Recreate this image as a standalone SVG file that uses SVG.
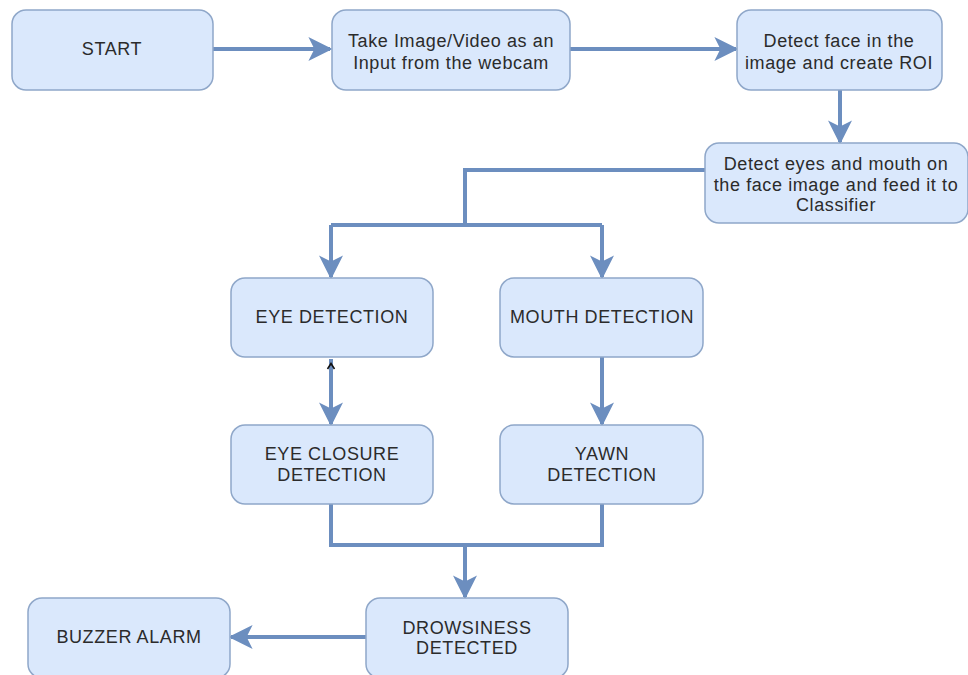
<svg xmlns="http://www.w3.org/2000/svg" width="968" height="675" viewBox="0 0 968 675">
<defs>
<style>
.n{fill:#dae8fc;stroke:#8fa7c9;stroke-width:1.5}
.t{font-family:"Liberation Sans",Arial,sans-serif;font-size:18px;fill:#2b2b2b;text-anchor:middle;letter-spacing:0.6px}
.c{fill:none;stroke:#6c8ebf;stroke-width:4}
</style>
<marker id="a" viewBox="0 0 10 10" refX="9" refY="5" markerWidth="6" markerHeight="6" orient="auto" markerUnits="strokeWidth">
<path d="M0,0 L10,5 L0,10 L2.5,5 Z" fill="#6c8ebf"/>
</marker>
</defs>
<rect width="968" height="675" fill="#fff"/>
<g id="connectors">
<path class="c" d="M213,49 H330" marker-end="url(#a)"/>
<path class="c" d="M570,49 H736" marker-end="url(#a)"/>
<path class="c" d="M840,90 V142" marker-end="url(#a)"/>
<path class="c" d="M705,170 H465 V225"/>
<path class="c" d="M331,225 H602"/>
<path class="c" d="M331,225 V277" marker-end="url(#a)"/>
<path class="c" d="M602,225 V277" marker-end="url(#a)"/>
<path class="c" d="M331,359 V424" marker-end="url(#a)"/>
<path d="M327.5,369 L331,363.5 L334.5,369" fill="none" stroke="#111" stroke-width="1.6"/>
<path class="c" d="M602,357 V424" marker-end="url(#a)"/>
<path class="c" d="M331,504 V545 H602 V504"/>
<path class="c" d="M465,545 V597" marker-end="url(#a)"/>
<path class="c" d="M366,637 H231" marker-end="url(#a)"/>
</g>
<g id="start"><rect class="n" x="12" y="10" width="201" height="80" rx="14"/><text class="t" x="112" y="55">START</text></g>
<g id="input"><rect class="n" x="332" y="10" width="238" height="80" rx="14"/><text class="t" x="451" y="47">Take Image/Video as an</text><text class="t" x="451" y="69">Input from the webcam</text></g>
<g id="face"><rect class="n" x="737" y="10" width="205" height="80" rx="14"/><text class="t" x="839" y="47">Detect face in the</text><text class="t" x="839" y="69">image and create ROI</text></g>
<g id="eyesmouth"><rect class="n" x="705" y="143" width="263" height="80" rx="14"/><text class="t" x="836" y="170">Detect eyes and mouth on</text><text class="t" x="836" y="191">the face image and feed it to</text><text class="t" x="836" y="211">Classifier</text></g>
<g id="eyedet"><rect class="n" x="231" y="278" width="202" height="79" rx="14"/><text class="t" x="332" y="323">EYE DETECTION</text></g>
<g id="mouthdet"><rect class="n" x="500" y="278" width="203" height="79" rx="14"/><text class="t" x="602" y="323">MOUTH DETECTION</text></g>
<g id="eyeclosure"><rect class="n" x="231" y="425" width="202" height="79" rx="14"/><text class="t" x="332" y="460">EYE CLOSURE</text><text class="t" x="332" y="481">DETECTION</text></g>
<g id="yawn"><rect class="n" x="500" y="425" width="203" height="79" rx="14"/><text class="t" x="602" y="460">YAWN</text><text class="t" x="602" y="481">DETECTION</text></g>
<g id="drowsy"><rect class="n" x="366" y="598" width="202" height="80" rx="14"/><text class="t" x="467" y="634">DROWSINESS</text><text class="t" x="467" y="654">DETECTED</text></g>
<g id="buzzer"><rect class="n" x="28" y="598" width="202" height="80" rx="14"/><text class="t" x="129" y="643">BUZZER ALARM</text></g>
</svg>
